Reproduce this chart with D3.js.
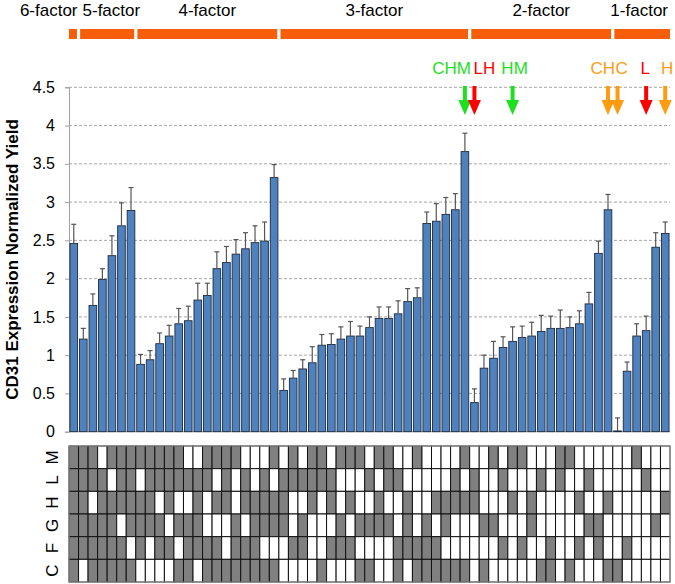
<!DOCTYPE html>
<html><head><meta charset="utf-8">
<script src="https://cdn.jsdelivr.net/npm/d3@7"></script>
<style>
body{margin:0;background:#fff}
svg{display:block}
text{font-family:"Liberation Sans",Arial,Helvetica,sans-serif}
</style>
</head><body><svg id="c" width="675" height="584"></svg>
<script>
// ---------------- DATA ----------------
const groupNames = ["6-factor","5-factor","4-factor","3-factor","2-factor","1-factor"];
const groupSizes = [1,6,15,20,15,6];

// factors present in each column (gray cells in the table)
const combos = [
  "CFGHLM",
  "FGHLM","CFGLM","CFGHL","CFGHM","CFHLM","CGHLM",
  "FGHM","GHLM","FGLM","FHLM","CGLM","CFGL","FGHL","CFLM","CFHM","CHLM","CFGM","CFHL","CFGH","CGHL","CGHM",
  "GHL","FLM","FGL","HLM","CLM","FHL","FGM","FHM","CGM","CGL","GHM","GLM","CFL","FGH","CFM","CFG","CFH","CGH","CHL","CHM",
  "HL","CG","GM","FL","HM","FM","GH","CL","CF","LM","CM","FH","GL","FG","CH",
  "C","F","M","L","G","H"
];
const values = [
  2.46,
  1.21,1.65,1.99,2.30,2.69,2.89,
  0.88,0.94,1.15,1.25,1.41,1.45,1.72,1.78,2.13,2.21,2.32,2.39,2.47,2.49,3.32,
  0.54,0.70,0.82,0.90,1.13,1.14,1.21,1.25,1.25,1.36,1.48,1.48,1.54,1.70,1.75,2.72,2.75,2.84,2.90,3.66,
  0.38,0.83,0.96,1.10,1.18,1.23,1.25,1.31,1.35,1.35,1.36,1.41,1.67,2.33,2.90,
  0.01,0.79,1.25,1.32,2.41,2.59
];
const errors = [
  0.25,
  0.14,0.15,0.14,0.26,0.30,0.30,
  0.13,0.12,0.14,0.14,0.20,0.19,0.22,0.16,0.22,0.21,0.19,0.21,0.22,0.25,0.17,
  0.15,0.10,0.12,0.21,0.14,0.14,0.16,0.19,0.13,0.14,0.15,0.15,0.17,0.17,0.13,0.15,0.23,0.22,0.21,0.24,
  0.18,0.17,0.22,0.14,0.19,0.15,0.18,0.21,0.16,0.24,0.14,0.17,0.15,0.16,0.20,
  0.17,0.12,0.16,0.19,0.19,0.15
];
const factorRows = ["M","L","H","G","F","C"];
const yTicks = [0,0.5,1,1.5,2,2.5,3,3.5,4,4.5];
const tickLabels = ["0","0.5","1","1.5","2","2.5","3","3.5","4","4.5"];
const arrowLabels = ["CHM","LH","HM","CH","C","L","H"];
const arrowCombos = ["CHM","HL","HM","CH","C","L","H"];

// ---------------- STYLE / LAYOUT ----------------
const arrowColor = {CHM:"#1FE01F",HM:"#1FE01F",LH:"#FF0000",L:"#FF0000",CH:"#FF9B0F",C:"#FF9B0F",H:"#FF9B0F"};
const arrowAnchor = {CHM:["end",6],LH:["start",-1],HM:["middle",2],CH:["end",7],C:["start",-2],L:["middle",-1],H:["middle",2]};

const svg = d3.select("#c");
const left = 69, right = 670;
const y0 = 431.7, yTopPx = 87.3;
const n = values.length;
const cols = d3.range(n);

const colW = (right-left)/n;
const colLeft = i => left + i*colW;
const y = d3.scaleLinear().domain([0,4.5]).range([y0,yTopPx]);

// gridlines
svg.append("g").selectAll("line").data(yTicks.filter(t=>t>0)).join("line")
  .attr("x1",left).attr("x2",right)
  .attr("y1",d=>y(d)).attr("y2",d=>y(d))
  .attr("stroke","#A6A6A6").attr("stroke-width",1).attr("stroke-dasharray","3,2");

// y axis
const yAxis = d3.axisLeft(y).tickValues(yTicks).tickFormat((d,i)=>tickLabels[i]).tickSize(4).tickPadding(10);
const ga = svg.append("g").attr("transform",`translate(${left},0)`).call(yAxis);
ga.select(".domain").attr("stroke","#A0A0A0");
ga.selectAll(".tick line").attr("stroke","#A0A0A0");
ga.selectAll(".tick text").attr("font-size",16).attr("fill","#000")
  .style("font-family","'Liberation Sans',Arial,sans-serif");

// x axis baseline
svg.append("line").attr("x1",left).attr("x2",right).attr("y1",y(0)).attr("y2",y(0))
  .attr("stroke","#A0A0A0").attr("stroke-width",1);

// y label
svg.append("text").attr("transform",`translate(14,${(y0+yTopPx)/2}) rotate(-90)`)
  .attr("text-anchor","middle").attr("dominant-baseline","middle")
  .attr("font-size",17).attr("font-weight","bold").text("CD31 Expression Normalized Yield");

// bars
const bw = colW*0.8;
const bx = i => colLeft(i) + (colW-bw)/2;
svg.append("g").selectAll("rect").data(cols).join("rect")
  .attr("x",i=>bx(i)).attr("width",bw)
  .attr("y",i=>y(values[i])).attr("height",i=>y(0)-y(values[i]))
  .attr("fill","#4F81BD").attr("stroke","#1C2A40").attr("stroke-width",0.9);

// error bars
const eg = svg.append("g").attr("stroke","#555").attr("stroke-width",1.2);
cols.forEach(i=>{
  const cx = colLeft(i)+colW/2;
  eg.append("line").attr("x1",cx).attr("x2",cx).attr("y1",y(values[i])).attr("y2",y(values[i]+errors[i]));
  eg.append("line").attr("x1",cx-2.5).attr("x2",cx+2.5).attr("y1",y(values[i]+errors[i])).attr("y2",y(values[i]+errors[i]));
});

// group bars + labels
let start = 0;
groupSizes.forEach((s,gi)=>{
  const a = colLeft(start), b = colLeft(start+s);
  const xa = gi===0 ? a : a+1.6, xb = gi===groupSizes.length-1 ? b : b-1.6;
  svg.append("rect").attr("x",xa).attr("y",29).attr("width",xb-xa).attr("height",10).attr("fill","#F75E0C");
  let tx = (a+b)/2, anchor = "middle";
  if (gi===0){ tx = b-1; anchor="end"; }
  else if (gi===1){ tx = a+4; anchor="start"; }
  else if (gi===groupSizes.length-1){ tx = b-2; anchor="end"; }
  svg.append("text").attr("x",tx).attr("y",16).attr("text-anchor",anchor)
    .attr("font-size",17).text(groupNames[gi]);
  start += s;
});

// arrows
arrowLabels.forEach((lab,k)=>{
  const ci = combos.findIndex(c=>c.split("").sort().join("")===arrowCombos[k].split("").sort().join(""));
  const cx = colLeft(ci)+colW/2;
  const col = arrowColor[lab];
  svg.append("rect").attr("x",cx-2).attr("y",86).attr("width",4).attr("height",15).attr("fill",col);
  svg.append("path").attr("d",`M${cx-6.5},100 L${cx+6.5},100 L${cx},115 Z`).attr("fill",col);
  const [anc,off] = arrowAnchor[lab];
  svg.append("text").attr("x",cx+off).attr("y",74).attr("text-anchor",anc)
    .attr("font-size",17).attr("fill",col).text(lab);
});

// factor table
const gTop = 446, gBot = 582;
const rowH = (gBot-gTop)/factorRows.length;
const tg = svg.append("g");
factorRows.forEach((f,r)=>{
  cols.forEach(i=>{
    tg.append("rect").attr("x",colLeft(i)).attr("y",gTop+r*rowH).attr("width",colW).attr("height",rowH)
      .attr("fill",combos[i].includes(f)?"#808080":"#FFFFFF")
      .attr("stroke","#111").attr("stroke-width",1);
  });
  svg.append("text").attr("transform",`translate(54,${gTop+(r+0.5)*rowH}) rotate(-90)`)
    .attr("text-anchor","middle").attr("dominant-baseline","middle")
    .attr("font-size",17).text(f);
});
svg.append("rect").attr("x",left).attr("y",gTop).attr("width",right-left).attr("height",gBot-gTop)
  .attr("fill","none").attr("stroke","#999").attr("stroke-width",1);
</script>
</body></html>
